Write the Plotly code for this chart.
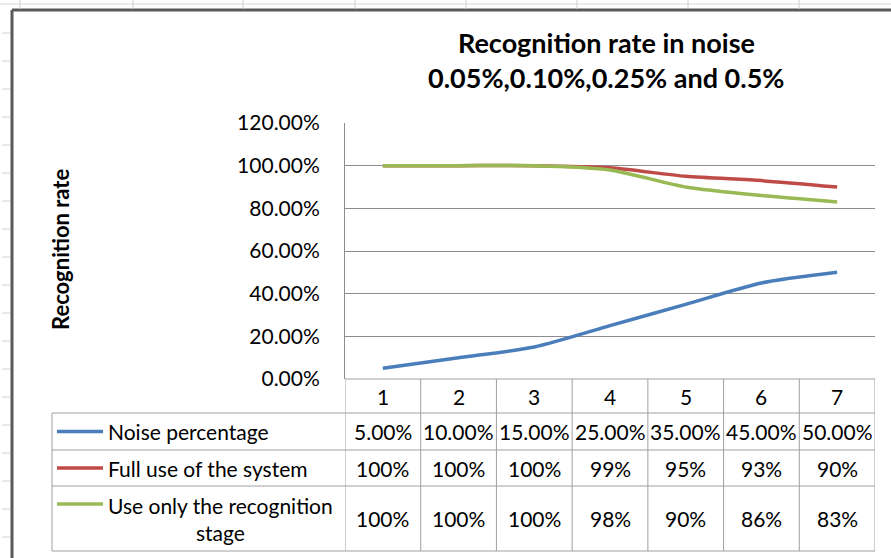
import plotly.graph_objects as go

# ---- data ----
categories = [1, 2, 3, 4, 5, 6, 7]
noise_pct = [0.05, 0.10, 0.15, 0.25, 0.35, 0.45, 0.50]
full_use = [1.00, 1.00, 1.00, 0.99, 0.95, 0.93, 0.90]
recog_only = [1.00, 1.00, 1.00, 0.98, 0.90, 0.86, 0.83]
series_names = ["Noise percentage", "Full use of the system", "Use only the recognition<br>stage"]
y_ticks = [0, 0.2, 0.4, 0.6, 0.8, 1.0, 1.2]
title_lines = ["Recognition rate in noise", "0.05%,0.10%,0.25% and 0.5%"]
y_title = "Recognition rate"

W, H = 891, 558
FONT = "Lato, Carlito, Calibri, sans-serif"
colors = ["#4A7EBB", "#BE4B48", "#98B954"]
TXT = 21


def px(x):
    return x / W


def py(y):
    return 1 - y / H


fig = go.Figure()
for vals, name, col in zip([noise_pct, full_use, recog_only], series_names, colors):
    fig.add_trace(go.Scatter(
        x=categories, y=vals, mode="lines", name=name,
        line=dict(color=col, width=3.5, shape="spline", smoothing=0.7),
        showlegend=False, hoverinfo="x+y"))

PLOT_L, PLOT_R, PLOT_T, PLOT_B = 345, 875, 123, 379
TABLE_L = 52
ROWS = [379, 413, 450, 486, 551]

fig.update_layout(
    width=W, height=H, autosize=False, showlegend=False,
    margin=dict(l=0, r=0, t=0, b=0, pad=0),
    paper_bgcolor="white", plot_bgcolor="white",
    font=dict(family=FONT, color="#000000"),
    xaxis=dict(domain=[px(PLOT_L), px(PLOT_R)], range=[0.5, 7.5],
               showticklabels=False, showgrid=False, zeroline=False,
               ticks="", fixedrange=True, automargin=False),
    yaxis=dict(domain=[py(PLOT_B), py(PLOT_T)], range=[0, 1.2],
               tickvals=y_ticks, tickformat=".2%",
               tickfont=dict(size=TXT, family=FONT, color="#000000"),
               showgrid=True, gridcolor="#8C8C8C", gridwidth=1,
               showline=True, linecolor="#8C8C8C", linewidth=1,
               zeroline=False, ticks="", ticklabelstandoff=20,
               fixedrange=True, automargin=False),
)

shapes = []
ann = []

# outer chart border
shapes.append(dict(type="line", xref="paper", yref="paper",
                   x0=px(12), x1=1, y0=py(10), y1=py(10),
                   line=dict(color="#5A5A5A", width=3)))
shapes.append(dict(type="line", xref="paper", yref="paper",
                   x0=px(12), x1=px(12), y0=py(10), y1=0,
                   line=dict(color="#5A5A5A", width=3)))
# faint spreadsheet gridlines outside chart
shapes.append(dict(type="line", xref="paper", yref="paper",
                   x0=0, x1=1, y0=py(4), y1=py(4),
                   line=dict(color="#D8D8D8", width=1)))
for xx in [20, 133, 243, 355, 466, 577, 688, 799]:
    shapes.append(dict(type="line", xref="paper", yref="paper",
                       x0=px(xx), x1=px(xx), y0=py(0), y1=py(9),
                       line=dict(color="#D0D0D0", width=1)))
for yy in range(33, 558, 28):
    shapes.append(dict(type="line", xref="paper", yref="paper",
                       x0=px(2), x1=px(10), y0=py(yy), y1=py(yy),
                       line=dict(color="#D0D0D0", width=1)))

tcol = "#A0A0A0"
# table horizontal lines
shapes.append(dict(type="line", xref="paper", yref="paper",
                   x0=px(PLOT_L), x1=px(PLOT_R), y0=py(ROWS[0]), y1=py(ROWS[0]),
                   line=dict(color=tcol, width=1)))
for r in ROWS[1:]:
    shapes.append(dict(type="line", xref="paper", yref="paper",
                       x0=px(TABLE_L), x1=px(PLOT_R), y0=py(r), y1=py(r),
                       line=dict(color=tcol, width=1)))
# table vertical lines (column borders at category boundaries)
for k in range(len(categories) + 1):
    shapes.append(dict(type="line", xref="x", yref="paper",
                       x0=k + 0.5, x1=k + 0.5, y0=py(ROWS[0]), y1=py(ROWS[-1]),
                       line=dict(color=tcol, width=1)))
shapes.append(dict(type="line", xref="paper", yref="paper",
                   x0=px(TABLE_L), x1=px(TABLE_L), y0=py(ROWS[1]), y1=py(ROWS[-1]),
                   line=dict(color=tcol, width=1)))

# header numbers
for c in categories:
    ann.append(dict(x=c, y=py((ROWS[0] + ROWS[1]) / 2), xref="x", yref="paper",
                    text=str(c), showarrow=False, font=dict(size=TXT, family=FONT),
                    xanchor="center", yanchor="middle"))

row_fmt = [lambda v: f"{v*100:.2f}%", lambda v: f"{v*100:.0f}%", lambda v: f"{v*100:.0f}%"]
for i, (vals, name, col) in enumerate(zip([noise_pct, full_use, recog_only], series_names, colors)):
    yc = (ROWS[i + 1] + ROWS[i + 2]) / 2
    for c, v in zip(categories, vals):
        ann.append(dict(x=c, y=py(yc), xref="x", yref="paper",
                        text=row_fmt[i](v), showarrow=False,
                        font=dict(size=TXT, family=FONT),
                        xanchor="center", yanchor="middle"))
    # legend key line
    ky = yc if i < 2 else 504
    shapes.append(dict(type="line", xref="paper", yref="paper",
                       x0=px(57), x1=px(103), y0=py(ky), y1=py(ky),
                       line=dict(color=col, width=3.5)))
    ann.append(dict(x=px(106), y=py(yc), xref="paper", yref="paper",
                    text=name, showarrow=False, align="center",
                    font=dict(size=TXT, family=FONT),
                    xanchor="left", yanchor="middle"))

# title
ann.append(dict(x=px(606), y=py(42), xref="paper", yref="paper",
                text=f"<b>{title_lines[0]}</b>", showarrow=False,
                font=dict(size=27, family=FONT), xanchor="center", yanchor="middle"))
ann.append(dict(x=px(606), y=py(77), xref="paper", yref="paper",
                text=f"<b>{title_lines[1]}</b>", showarrow=False,
                font=dict(size=27, family=FONT), xanchor="center", yanchor="middle"))
# y-axis title
ann.append(dict(x=px(60), y=py(250), xref="paper", yref="paper",
                text=f"<b>{y_title}</b>", showarrow=False, textangle=-90,
                font=dict(size=22, family=FONT), xanchor="center", yanchor="middle"))

fig.update_layout(shapes=shapes, annotations=ann)
fig.write_html("out.html", config={"displayModeBar": False},
               post_script="document.body.style.margin='0';document.body.style.overflow='hidden';")
